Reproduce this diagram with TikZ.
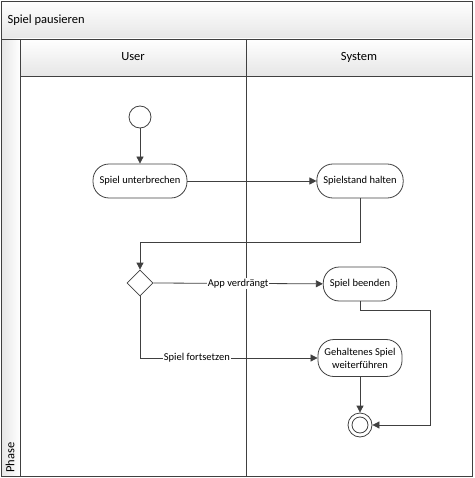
\documentclass[tikz,border=0pt]{standalone}
\usepackage{fontspec}
\setmainfont{Carlito}
\usetikzlibrary{arrows.meta,shapes.geometric}
\definecolor{linegray}{HTML}{404040}
\definecolor{bandgray}{HTML}{E6E6E6}
\newcommand{\nodefont}{\fontsize{10.5}{13}\selectfont}
\newcommand{\headfont}{\fontsize{12.5}{15}\selectfont}
\newcommand{\lanex}{246}

\begin{document}
\begin{tikzpicture}[x=1pt, y=-1pt,
    frame/.style={draw=linegray, line width=0.8pt},
    action/.style={draw=linegray, line width=0.8pt, rectangle, rounded corners=16pt, minimum height=34pt, inner xsep=6.5pt, inner ysep=4pt, align=center, font=\nodefont},
    flow/.style={draw=linegray, line width=0.8pt, -{Triangle[length=7pt,width=7pt]}},
    guard/.style={fill=white, inner sep=1pt, font=\nodefont}]
    \useasboundingbox (0,0) rectangle (474,478);

    % Pool
    \shade[top color=white, bottom color=bandgray] (1,1) rectangle (472,39);
    \shade[left color=bandgray, right color=white] (1,39) rectangle (20,476);
    \shade[top color=white, bottom color=bandgray] (20,39) rectangle (472,76);
    \draw[frame] (1,1) rectangle (472,476);
    \draw[frame] (1,39) -- (472,39);
    \draw[frame] (20,39) -- (20,476);
    \draw[frame] (20,76) -- (472,76);
    \draw[frame] (\lanex,39) -- (\lanex,476);
    \node[anchor=west, font=\headfont] (title) at (4,20) {Spiel pausieren};
    \node[rotate=90, anchor=west, font=\headfont, inner sep=2pt] (phase) at (10,475) {Phase};

    % Lanes
    \node[font=\headfont] (user) at (133,57) {User};
    \node[font=\headfont] (system) at (359,57) {System};

    % Actions
    \node[circle, draw=linegray, line width=0.8pt, minimum size=22pt, inner sep=0pt] (start) at (140,117) {};
    \node[action] (pause) at (140,181) {Spiel unterbrechen};
    \node[action] (hold) at (360,181) {Spielstand halten};
    \node[diamond, draw=linegray, line width=0.8pt, minimum size=26pt, inner sep=0pt, shape aspect=1] (choice) at (140,283) {};
    \node[action] (quit) at (360,284) {Spiel beenden};
    \node[action, minimum height=37pt] (resume) at (360,358) {Gehaltenes Spiel\\weiterführen};
    \node[circle, draw=linegray, line width=0.8pt, minimum size=24pt, inner sep=0pt] (stop) at (360,425) {};
    \node[circle, draw=linegray, line width=0.8pt, minimum size=16pt, inner sep=0pt] (stopdot) at (stop) {};

    % Flow
    \coordinate (bend1) at (360,242);
    \coordinate (bend2) at (360,310);
    \coordinate (bend3) at (430,310);
    \draw[flow] (start) -- (pause);
    \draw[flow] (pause) -- (hold);
    \draw[flow] (hold.south) -- (bend1) -| (choice.north);
    \draw[flow] (choice.east) -- node[guard] {App verdrängt} (quit);
    \draw[flow] (choice.south) |- node[guard, pos=0.66] {Spiel fortsetzen} (resume.west);
    \draw[flow] (resume) -- (stop);
    \draw[flow] (quit.south) -- (bend2) -- (bend3) |- (stop.east);

\end{tikzpicture}
\end{document}
